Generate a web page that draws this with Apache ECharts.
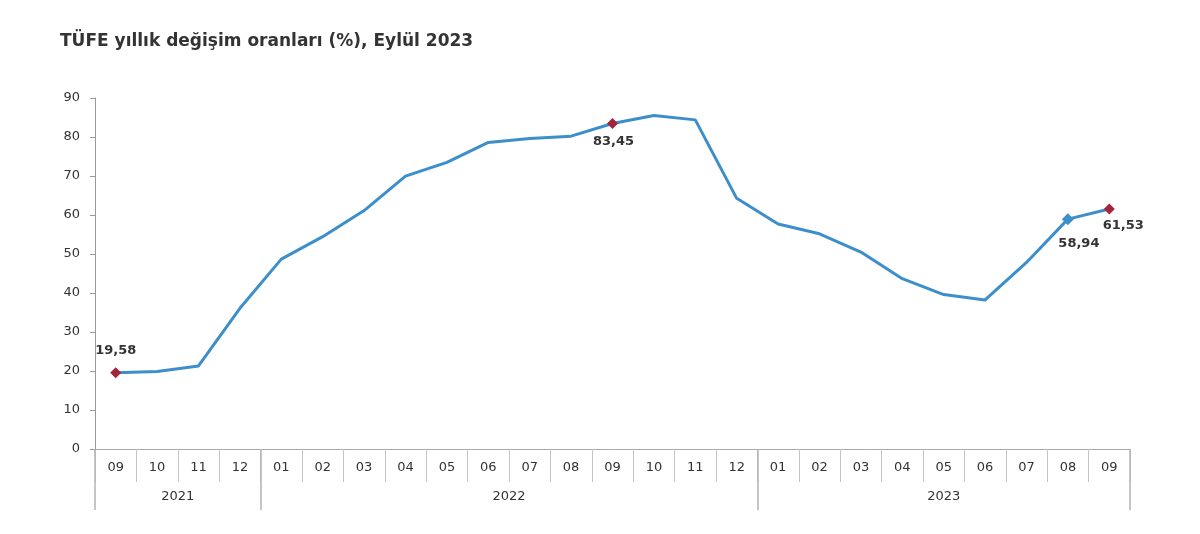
<!DOCTYPE html>
<html><head><meta charset="utf-8">
<script src="https://cdn.jsdelivr.net/npm/echarts@6/dist/echarts.min.js"></script>
<style>html,body{margin:0;padding:0;background:#fff}#c{width:1200px;height:534px}</style>
</head><body><div id="c"></div>
<script>
const titleText = 'TÜFE yıllık değişim oranları (%), Eylül 2023';
const months = ['09','10','11','12','01','02','03','04','05','06','07','08','09','10','11','12','01','02','03','04','05','06','07','08','09'];
const values = [19.58,19.89,21.31,36.08,48.69,54.44,61.14,69.97,73.50,78.62,79.60,80.21,83.45,85.51,84.39,64.27,57.68,55.18,50.51,43.68,39.59,38.21,47.83,58.94,61.53];
const years = ['2021','2022','2023'];
const yearStarts = [0,4,16,25];
const yTicks = [0,10,20,30,40,50,60,70,80,90];
const redIdx = [0,12,24];
const blueIdx = [23];

const FONT = 'DejaVu Sans, Liberation Sans, Arial, sans-serif';
const fmt = v => v.toFixed(2).replace('.', ',');
const labelCfg = {
  0: {position:'top', distance:10, offset:[0,0]},
  12: {position:'bottom', distance:6, offset:[1,0]},
  23: {position:'bottom', distance:12, offset:[11,0]},
  24: {position:'bottom', distance:5, offset:[14,0]}
};
const seriesData = values.map((v,i)=>{
  if (redIdx.includes(i) || blueIdx.includes(i)) {
    const red = redIdx.includes(i);
    const lc = labelCfg[i];
    return {value:v, symbol:'diamond', symbolSize: red?11:12,
      itemStyle:{color: red?'#a3243b':'#3d8fcb'},
      label:{show:true, formatter: fmt(v), position: lc.position, distance: lc.distance, offset: lc.offset,
        fontWeight:'bold', fontSize:13, color:'#333', fontFamily:FONT}};
  }
  return {value:v, symbol:'none'};
});
const yearCenters = years.map((y,i)=>(yearStarts[i]+yearStarts[i+1])/2);

const chart = echarts.init(document.getElementById('c'));
chart.setOption({
  animation:false,
  backgroundColor:'#fff',
  textStyle:{fontFamily:FONT},
  title:{text:titleText, left:55, top:28, textStyle:{fontSize:17, fontWeight:'bold', color:'#333', fontFamily:FONT}},
  grid:{left:95, right:70, top:98, bottom:85},
  xAxis:[{
    type:'category', data:months, boundaryGap:true,
    axisLine:{show:true, lineStyle:{color:'#aaa', width:1}},
    axisTick:{show:true, alignWithLabel:false, interval:0, length:33, lineStyle:{color:'#c4c4c4', width:1}},
    axisLabel:{interval:0, margin:12, fontSize:13, color:'#333', fontFamily:FONT},
    splitLine:{show:false}
  },{
    type:'value', position:'bottom', min:0, max:25, gridIndex:0,
    axisLine:{show:false},
    axisTick:{show:true, customValues:yearStarts, length:61, lineStyle:{color:'#b4b4b4', width:1.5}},
    axisLabel:{customValues:yearCenters, margin:41, fontSize:13, color:'#333', fontFamily:FONT,
      formatter:(v)=>{const i=yearCenters.indexOf(v); return i>=0?years[i]:'';}},
    splitLine:{show:false}
  }],
  yAxis:{
    type:'value', min:0, max:90, interval:10,
    axisLine:{show:true, lineStyle:{color:'#999', width:1}},
    axisTick:{show:true, length:5, lineStyle:{color:'#999'}},
    axisLabel:{fontSize:13, color:'#333', margin:15, fontFamily:FONT},
    splitLine:{show:false}
  },
  series:[{
    type:'line', xAxisIndex:0, data:seriesData, showSymbol:true, symbol:'none',
    lineStyle:{color:'#3d8fcb', width:3},
    itemStyle:{color:'#3d8fcb'}
  }]
});
</script></body></html>
